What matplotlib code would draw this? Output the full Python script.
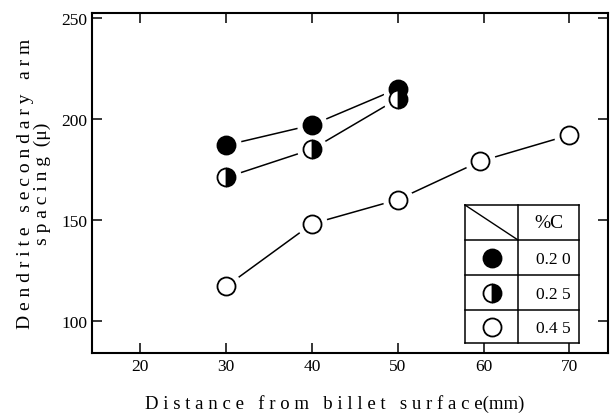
import matplotlib

matplotlib.use("Agg")
import matplotlib.pyplot as plt
from matplotlib.lines import Line2D

plt.rcParams["font.family"] = ["Liberation Serif", "DejaVu Serif"]

# distance from billet surface (mm) and secondary arm spacing (micron)
dist_020 = [30, 40, 50]
dsas_020 = [187, 197, 215]
dist_025 = [30, 40, 50]
dsas_025 = [171, 185, 210]
dist_045 = [30, 40, 50, 59.6, 70]
dsas_045 = [117, 148, 160, 179, 192]
carbon_labels = ["0.2 0", "0.2 5", "0.4 5"]

MS = 13


def spaced(s):
    return " ".join(s)


def draw_series(ax, x, y, **mk):
    ax.plot(x, y, color="black", lw=1.1, zorder=2)
    # white halo so line segments stop short of markers
    ax.plot(x, y, ls="none", marker="o", ms=MS + 8, mfc="white", mec="white", zorder=3)
    ax.plot(x, y, ls="none", marker="o", ms=MS, mec="black", mew=1.3, zorder=4, **mk)


fig = plt.figure(figsize=(6.11, 4.14), dpi=100)
ax = fig.add_axes([0.151, 0.145, 0.844, 0.821])

draw_series(ax, dist_020, dsas_020, mfc="black")
draw_series(ax, dist_025, dsas_025, mfc="black", fillstyle="right", markerfacecoloralt="white")
draw_series(ax, dist_045, dsas_045, mfc="white")

ax.set_xlim(14.4, 74.5)
ax.set_ylim(84, 252.5)
ax.set_xticks([20, 30, 40, 50, 60, 70])
ax.set_yticks([100, 150, 200, 250])
ax.tick_params(direction="in", length=7, width=1.1, top=True, right=True, labelsize=12.5)
for sp in ax.spines.values():
    sp.set_linewidth(1.5)

ax.set_xlabel(spaced("Distance") + "   " + spaced("from") + "   " + spaced("billet") + "   "
              + spaced("surface") + "(mm)", fontsize=13.5)
ax.xaxis.set_label_coords(0.47, -0.12)
ax.set_ylabel(spaced("Dendrite") + "   " + spaced("secondary") + "   " + spaced("arm") + "\n"
              + spaced("spacing") + "  (μ)", fontsize=14, linespacing=1.0)
ax.yaxis.set_label_coords(-0.08, 0.5)

# table style legend
x0, x1, xm = 465, 579, 518
ys = [206, 241, 276, 311, 344]
H = 414


def fx(px):
    return px / 611


def fy(py):
    return 1 - py / H


for y in ys:
    fig.add_artist(Line2D([fx(x0), fx(x1)], [fy(y), fy(y)], color="black", lw=1.1, zorder=5))
for x in [x0, xm, x1]:
    fig.add_artist(Line2D([fx(x), fx(x)], [fy(ys[0]), fy(ys[-1])], color="black", lw=1.1, zorder=5))
fig.add_artist(Line2D([fx(x0), fx(xm)], [fy(ys[0]), fy(ys[1])], color="black", lw=1.0, zorder=5))
fig.text(fx((xm + x1) / 2), fy((ys[0] + ys[1]) / 2), "%C", ha="center", va="center", fontsize=14)

styles = [dict(mfc="black"),
          dict(mfc="black", fillstyle="right", markerfacecoloralt="white"),
          dict(mfc="white")]
for i, (lab, st) in enumerate(zip(carbon_labels, styles)):
    yc = (ys[i + 1] + ys[i + 2]) / 2
    fig.add_artist(Line2D([fx((x0 + xm) / 2)], [fy(yc)], ls="none", marker="o", ms=MS,
                          mec="black", mew=1.3, zorder=6, **st))
    fig.text(fx(x1 - 8), fy(yc + 2), lab, ha="right", va="center", fontsize=12.5)

fig.savefig("out.png", dpi=100)
